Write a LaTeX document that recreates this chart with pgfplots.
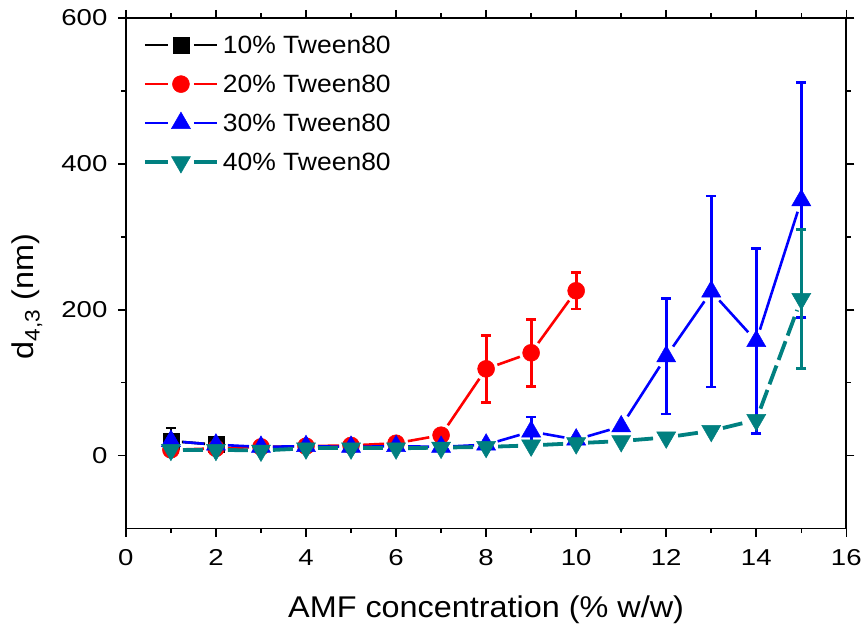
\documentclass[border=0pt]{standalone}
\usepackage{pgfplots}
\pgfplotsset{compat=1.18}
\usepackage{fontspec}
\setmainfont{Liberation Sans}
\newfontfamily\tickfont{Liberation Sans}[FakeStretch=1.2]
\newfontfamily\legfont{Liberation Sans}[FakeStretch=1.06]
\newfontfamily\labfont{Liberation Sans}[FakeStretch=1.08]
\definecolor{tealc}{RGB}{0,128,128}
\pgfplotstableread{
x y e
1 20 18
2 15 4
}\tA
\pgfplotstableread{
x y e
1 8 0
2 10 0
3 12 0
4 13 0
5 14 0
6 17 0
7 28 0
8 119 46
9 141 46
10 226 25
}\tB
\pgfplotstableread{
x y e
1 20 0
2 15 0
3 12 0
4 13 0
5 12 0
6 13 0
7 12 0
8 15 0
9 33 20
10 22 0
11 40 0
12 136 79
13 225 131
14 157 127
15 350 161
}\tC
\pgfplotstableread{
x y e
1 8 0
2 8 0
3 7 0
4 10 0
5 10 0
6 10 0
7 11 0
8 12 0
9 14 0
10 17 0
11 20 0
12 25 0
13 34 0
14 49 0
15 215 95
}\tD
\newcommand{\seg}[5]{\addplot[#1,forget plot] coordinates {(#2,#3) (#4,#5)};}
\pgfplotsset{
 blkline/.style={black, line width=2.6pt, shorten <=11pt, shorten >=11pt},
 redline/.style={red, line width=2.6pt, shorten <=12pt, shorten >=12pt},
 bluline/.style={blue, line width=2.6pt, shorten <=12pt, shorten >=12pt},
 tealine/.style={tealc, line width=3.8pt, dash pattern=on 20pt off 6pt, shorten <=12pt, shorten >=12pt},
 ebar/.style={error bars/.cd, y dir=both, y explicit,
   error bar style={line width=2.8pt, #1},
   error mark options={rotate=90, mark size=5pt, line width=2.8pt, #1}},
}
\begin{document}
\begin{tikzpicture}
\begin{axis}[
 scale only axis, width=721pt, height=511pt,
 xmin=0, xmax=16, ymin=-100, ymax=600,
 xtick={0,2,...,16}, ytick={0,200,400,600},
 xticklabels={0,2,4,6,8,10,12,14,16},
 yticklabels={0,200,400,600},
 minor x tick num=1, minor y tick num=1,
 tick align=outside, major tick length=8pt, minor tick length=4.5pt,
 axis line style={line width=1.8pt},
 every tick/.style={line width=1.6pt, black},
 ticklabel style={font=\tickfont\fontsize{23}{25}\selectfont},
 xticklabel style={anchor=base, yshift=-29pt},
 yticklabel style={anchor=east, xshift=-7pt},
 xlabel={AMF concentration (\% w/w)},
 ylabel={d\textsubscript{4,3} (nm)},
 xlabel style={font=\labfont\fontsize{30}{32}\selectfont, at={(axis description cs:0.5,0)}, anchor=base, yshift=-89pt},
 ylabel style={font=\labfont\fontsize{30}{32}\selectfont, at={(axis description cs:-0.1373,0.454)}, anchor=center},
 legend style={draw=none, fill=none, inner sep=0pt, at={(axis description cs:0,1)}, anchor=north west,
   xshift=17pt, yshift=-13pt, font=\legfont\fontsize{25}{27}\selectfont, row sep=11pt,
   nodes={inner sep=0pt}},
 legend cell align=left,
 legend image code/.code={
   \path[draw=none, fill=none] (0pt,-14pt) rectangle (78pt,14pt);
   \draw[#1] (0pt,0pt) -- (23pt,0pt);
   \draw[#1] (49pt,0pt) -- (72pt,0pt);
   \draw[#1] plot coordinates {(36pt,0pt)};
 },
]
\coordinate (SW) at (rel axis cs:0,0);
\coordinate (NE) at (rel axis cs:1,1);
% legend images
\addlegendimage{black, line width=2.6pt, mark=square*, mark size=8pt, mark options={solid, line width=0.5pt}}
\addlegendentry{10\% Tween80}
\addlegendimage{red, line width=2.6pt, mark=*, mark size=8.5pt, mark options={solid, line width=0.5pt}}
\addlegendentry{20\% Tween80}
\addlegendimage{blue, line width=2.6pt, mark=triangle*, mark size=11pt, mark options={solid, line width=0.5pt}}
\addlegendentry{30\% Tween80}
\addlegendimage{tealc, line width=3.8pt, mark=triangle*, mark size=11pt, mark options={solid, rotate=180, line width=0.5pt}}
\addlegendentry{40\% Tween80}
% 10% Tween80
\seg{blkline}{1}{20}{2}{15}
\addplot[forget plot, only marks, black, mark=square*, mark size=8pt, mark options={line width=0.5pt}, ebar=black]
  table[x=x,y=y,y error=e] {\tA};
% 20% Tween80
\seg{redline}{1}{8}{2}{10}
\seg{redline}{2}{10}{3}{12}
\seg{redline}{3}{12}{4}{13}
\seg{redline}{4}{13}{5}{14}
\seg{redline}{5}{14}{6}{17}
\seg{redline}{6}{17}{7}{28}
\seg{redline}{7}{28}{8}{119}
\seg{redline}{8}{119}{9}{141}
\seg{redline}{9}{141}{10}{226}
\addplot[forget plot, only marks, red, mark=*, mark size=8.5pt, mark options={line width=0.5pt}, ebar=red]
  table[x=x,y=y,y error=e] {\tB};
% 30% Tween80
\seg{bluline}{1}{20}{2}{15}
\seg{bluline}{2}{15}{3}{12}
\seg{bluline}{3}{12}{4}{13}
\seg{bluline}{4}{13}{5}{12}
\seg{bluline}{5}{12}{6}{13}
\seg{bluline}{6}{13}{7}{12}
\seg{bluline}{7}{12}{8}{15}
\seg{bluline}{8}{15}{9}{33}
\seg{bluline}{9}{33}{10}{22}
\seg{bluline}{10}{22}{11}{40}
\seg{bluline}{11}{40}{12}{136}
\seg{bluline}{12}{136}{13}{225}
\seg{bluline}{13}{225}{14}{157}
\seg{bluline}{14}{157}{15}{350}
\addplot[forget plot, only marks, blue, mark=triangle*, mark size=11pt, mark options={line width=0.5pt}, ebar=blue]
  table[x=x,y=y,y error=e] {\tC};
% 40% Tween80
\seg{tealine}{1}{8}{2}{8}
\seg{tealine}{2}{8}{3}{7}
\seg{tealine}{3}{7}{4}{10}
\seg{tealine}{4}{10}{5}{10}
\seg{tealine}{5}{10}{6}{10}
\seg{tealine}{6}{10}{7}{11}
\seg{tealine}{7}{11}{8}{12}
\seg{tealine}{8}{12}{9}{14}
\seg{tealine}{9}{14}{10}{17}
\seg{tealine}{10}{17}{11}{20}
\seg{tealine}{11}{20}{12}{25}
\seg{tealine}{12}{25}{13}{34}
\seg{tealine}{13}{34}{14}{49}
\seg{tealine}{14}{49}{15}{215}
\addplot[forget plot, only marks, tealc, mark=triangle*, mark size=11pt, mark options={rotate=180, line width=0.5pt}, ebar=tealc]
  table[x=x,y=y,y error=e] {\tD};
\end{axis}
\path (SW) ++(-126pt,-99pt);
\path (NE) ++(18pt,18pt);
\end{tikzpicture}
\end{document}
